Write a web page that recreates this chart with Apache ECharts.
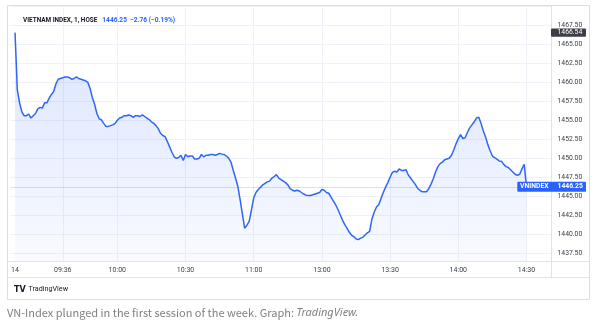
<!DOCTYPE html>
<html><head><meta charset="utf-8">
<script src="https://cdn.jsdelivr.net/npm/echarts@6/dist/echarts.min.js"></script>
<style>html,body{margin:0;padding:0;background:#fff}#c{width:600px;height:323px}</style>
</head><body><div id="c"></div>
<script>
// ---- data ----
const morningSession = ['09:15', '11:29'];
const afternoonSession = ['13:00', '14:30'];
const values = [
1466.54,1459.0,1457.3,1456.1,1455.6,1455.6,1455.8,1455.3,1455.6,1455.9,
1456.5,1456.7,1456.6,1457.3,1457.3,1457.9,1458.4,1458.8,1459.8,1460.4,
1460.5,1460.6,1460.7,1460.7,1460.6,1460.4,1460.5,1460.7,1460.5,1460.4,
1460.3,1460.2,1460.0,1459.2,1458.0,1457.1,1455.9,1455.2,1455.05,1454.6,
1454.2,1454.2,1454.3,1454.4,1454.6,1455.0,1455.3,1455.4,1455.6,1455.6,
1455.7,1455.6,1455.4,1455.6,1455.6,1455.5,1455.7,1455.5,1455.3,1455.1,
1454.8,1454.6,1454.3,1453.9,1453.3,1453.0,1452.85,1452.2,1451.5,1450.8,
1450.2,1450.0,1450.1,1450.4,1449.7,1450.5,1450.2,1450.3,1450.3,1449.9,
1449.9,1450.0,1450.5,1450.2,1450.4,1450.4,1450.5,1450.5,1450.4,1450.5,
1450.65,1450.55,1450.5,1450.3,1450.0,1449.5,1448.4,1447.4,1446.3,1444.6,
1442.7,1440.8,1441.2,1441.7,1443.2,1444.8,1445.5,1445.9,1446.2,1446.5,
1446.7,1446.9,1447.0,1447.4,1447.6,1447.85,1447.4,1447.2,1447.0,1446.8,
1446.5,1446.0,1445.8,1445.7,1445.8,1445.7,1445.5,1445.3,1445.15,1445.1,
1445.1,1445.2,1445.3,1445.4,1445.5,1445.9,1445.8,1445.5,1445.4,1444.9,
1444.4,1443.9,1443.3,1442.6,1441.9,1441.3,1440.8,1440.3,1439.9,1439.7,
1439.4,1439.3,1439.5,1439.6,1439.9,1440.2,1440.4,1442.0,1442.9,1443.6,
1443.9,1444.7,1445.5,1446.2,1446.8,1447.5,1448.15,1448.3,1448.2,1448.6,
1448.4,1448.4,1448.5,1447.8,1447.4,1447.0,1446.6,1446.1,1445.8,1445.6,
1445.6,1445.6,1446.0,1446.6,1447.3,1448.2,1448.9,1449.3,1449.5,1449.8,
1449.9,1450.0,1450.4,1451.1,1451.9,1452.6,1453.1,1452.6,1452.7,1453.4,
1454.0,1454.4,1454.8,1455.3,1455.4,1454.6,1453.6,1452.8,1451.8,1451.0,
1450.3,1450.1,1449.9,1449.65,1449.6,1449.2,1448.9,1448.8,1448.5,1448.2,
1447.9,1447.75,1447.9,1448.6,1449.2,1446.25
];
const tickTimes = ['09:15','09:36','10:00','10:30','11:00','13:00','13:30','14:00','14:30'];
const tickTexts = ['14','09:36','10:00','10:30','11:00','13:00','13:30','14:00','14:30'];
const yMin = 1435, yMax = 1470, yStep = 2.5;
const seriesName = 'VNINDEX';
const titleMain = 'VIETNAM INDEX, 1, HOSE';
const changeText = '−2.76 (−0.19%)';

// ---- build categories ----
function toMin(s){const p=s.split(':');return +p[0]*60+ +p[1];}
function fmt(m){return String(Math.floor(m/60)).padStart(2,'0')+':'+String(m%60).padStart(2,'0');}
function range(a,b){const r=[];for(let m=toMin(a);m<=toMin(b);m++)r.push(fmt(m));return r;}
const times = range(morningSession[0], morningSession[1]).concat(range(afternoonSession[0], afternoonSession[1]));
const padBefore = 2, padAfter = 11;
const cats = [];
for (let i=0;i<padBefore;i++) cats.push('pre'+i);
times.forEach(t=>cats.push(t));
for (let i=0;i<padAfter;i++) cats.push('post'+i);
const seriesData = [];
for (let i=0;i<padBefore;i++) seriesData.push(null);
values.forEach(v=>seriesData.push(v));

const tickIdx = {};
tickTimes.forEach((t,k)=>{ tickIdx[times.indexOf(t)+padBefore] = tickTexts[k]; });
const firstIdx = times.indexOf(tickTimes[0]) + padBefore;

const last = values[values.length-1];
const high = Math.max.apply(null, values);

const chart = echarts.init(document.getElementById('c'), null, {renderer:'canvas'});
const FONT = 'Roboto';
const gridTop = 6.3, gridH = 266;
const option = {
  animation: false,
  backgroundColor: '#ffffff',
  title: {
    left: 18, top: 12,
    text: '{a|' + titleMain + '}{b|' + last.toFixed(2) + '  ' + changeText + '}',
    textStyle: {
      rich: {
        a: {fontFamily: FONT, fontSize: 6.4, color: '#131722'},
        b: {fontFamily: FONT, fontSize: 6.6, color: '#2962ff', padding: [0, 0, 0, 5]}
      }
    }
  },
  grid: {left: 10.5, right: 48.5, top: gridTop, height: gridH},
  xAxis: [{
    type: 'category', data: cats, boundaryGap: false,
    axisLine: {show: false}, axisTick: {show: false}, axisLabel: {show: false},
    splitLine: {show: true, interval: (i)=> (i in tickIdx) && i !== firstIdx, lineStyle: {color: '#eef1f7', width: 1}}
  }, {
    type: 'category', data: cats, boundaryGap: false, position: 'bottom',
    offset: -10.6, z: 30,
    axisLine: {show: false}, axisTick: {show: false}, splitLine: {show: false},
    axisLabel: {
      show: true, interval: (i)=> (i in tickIdx), margin: 5,
      formatter: (v, i)=> tickIdx[i] || '',
      fontFamily: FONT, fontSize: 7, color: '#3a3e49'
    }
  }],
  yAxis: {
    type: 'value', position: 'right', min: yMin, max: yMax, interval: yStep,
    axisLine: {show: false}, axisTick: {show: false},
    axisLabel: {
      margin: 6, showMinLabel: false, showMaxLabel: false,
      formatter: (v)=> v.toFixed(2), fontFamily: FONT, fontSize: 6.8, color: '#3a3e49'
    },
    splitLine: {lineStyle: {color: '#eef1f7', width: 1}}
  },
  series: [{
    name: seriesName, type: 'line', data: seriesData, xAxisIndex: 0,
    showSymbol: false, symbol: 'none', connectNulls: false,
    lineStyle: {color: '#2f66f5', width: 1.5},
    areaStyle: {
      color: new echarts.graphic.LinearGradient(0,0,0,1,[
        {offset: 0, color: 'rgba(41,98,255,0.24)'},
        {offset: 1, color: 'rgba(41,98,255,0.03)'}
      ])
    },
    markLine: {
      silent: true, symbol: 'none', label: {show: false},
      lineStyle: {color: 'rgba(41,98,255,0.2)', type: 'solid', width: 1},
      data: [{yAxis: last}]
    }
  }]
};
chart.setOption(option);

const yLast = chart.convertToPixel({yAxisIndex: 0}, last);
const yHigh = chart.convertToPixel({yAxisIndex: 0}, high);
const lineC = '#e0e3eb';
chart.setOption({
  graphic: [
    {type: 'rect', z: 10, shape: {x: 8, y: 262, width: 581, height: 37}, style: {fill: '#fff'}},
    {type: 'line', z: 11, shape: {x1: 8, y1: 261.5, x2: 589, y2: 261.5}, style: {stroke: lineC, lineWidth: 1}},
    {type: 'line', z: 11, shape: {x1: 8, y1: 277.5, x2: 589, y2: 277.5}, style: {stroke: lineC, lineWidth: 1}},
    {type: 'line', z: 11, shape: {x1: 551.5, y1: 5.5, x2: 551.5, y2: 277.5}, style: {stroke: lineC, lineWidth: 1}},
    {type: 'rect', z: 12, shape: {x: 7.5, y: 5.5, width: 582, height: 294}, style: {fill: 'none', stroke: '#dedede', lineWidth: 1}},
    {type: 'rect', z: 20, shape: {x: 517.3, y: yLast - 5, width: 68.7, height: 10, r: 1}, style: {fill: '#2962ff'}},
    {type: 'text', z: 21, x: 520, y: yLast, style: {text: seriesName, fill: '#fff', font: 'bold 6.8px Roboto', verticalAlign: 'middle'}},
    {type: 'text', z: 21, x: 557.5, y: yLast, style: {text: last.toFixed(2), fill: '#fff', font: 'bold 6.8px Roboto', verticalAlign: 'middle'}},
    {type: 'rect', z: 20, shape: {x: 551, y: yHigh - 4.2, width: 35, height: 8.4, r: 1}, style: {fill: '#3c3f47'}},
    {type: 'text', z: 21, x: 557.5, y: yHigh, style: {text: high.toFixed(2), fill: '#fff', font: '6.8px Roboto', verticalAlign: 'middle'}},
    {type: 'text', z: 21, x: 14, y: 289.5, style: {text: 'TV', fill: '#131722', font: 'bold 8px "DejaVu Sans"', verticalAlign: 'middle'}},
    {type: 'text', z: 21, x: 28.5, y: 289.5, style: {text: 'TradingView', fill: '#131722', font: '7.2px Roboto', verticalAlign: 'middle'}},
    {type: 'text', z: 21, x: 7, y: 313, style: {
      text: '{n|VN-Index plunged in the first session of the week. Graph: }{i|TradingView.}',
      verticalAlign: 'middle',
      rich: {
        n: {fontFamily: '"Noto Sans CJK KR", "Noto Sans"', fontSize: 11, fill: '#808080'},
        i: {fontFamily: '"Noto Sans"', fontSize: 11, fontStyle: 'italic', fill: '#808080'}
      }
    }}
  ]
});
</script>
</body></html>
